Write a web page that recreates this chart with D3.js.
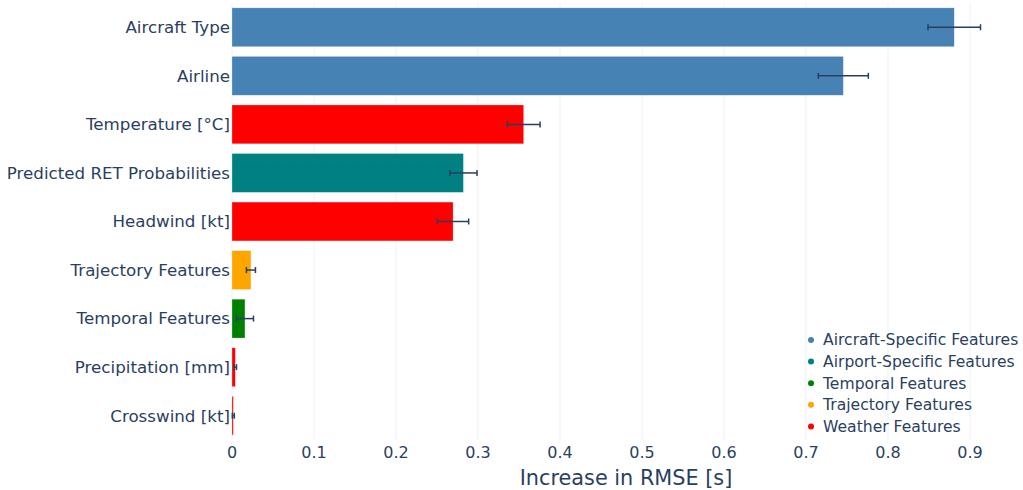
<!DOCTYPE html>
<html><head><meta charset="utf-8">
<script src="https://cdn.jsdelivr.net/npm/d3@7"></script>
<style>body{margin:0;background:#fff;} text{font-family:"DejaVu Sans",Verdana,sans-serif;}</style>
</head><body><svg id="c" width="1023" height="490"></svg>
<script>
const features = ["Aircraft Type","Airline","Temperature [°C]","Predicted RET Probabilities","Headwind [kt]","Trajectory Features","Temporal Features","Precipitation [mm]","Crosswind [kt]"];
const importance = [0.8808,0.7455,0.3557,0.2822,0.2696,0.0231,0.0158,0.0040,0.0016];
const errors = [0.032,0.0305,0.020,0.0166,0.019,0.0055,0.0104,0.0015,0.0012];
const groups = ["Aircraft-Specific Features","Aircraft-Specific Features","Weather Features","Airport-Specific Features","Weather Features","Trajectory Features","Temporal Features","Weather Features","Weather Features"];
const legendGroups = ["Aircraft-Specific Features","Airport-Specific Features","Temporal Features","Trajectory Features","Weather Features"];
const groupColors = ["#4682B4","#008080","#008000","#FFA500","#FF0000"];
const xTicks = [0,0.1,0.2,0.3,0.4,0.5,0.6,0.7,0.8,0.9];

const svg = d3.select("#c");
const pL = 232, pR = 1018, pT = 3, pB = 440;
const x = d3.scaleLinear().domain([0, 0.9]).range([pL, 970]);
const y = d3.scaleBand().domain(features).range([pT, pB]).paddingInner(0.2).paddingOuter(0.1);
const color = d3.scaleOrdinal().domain(legendGroups).range(groupColors);
const txt = "#2a3f5f";

// grid
svg.append("g").selectAll("line").data(xTicks).join("line")
  .attr("x1", d=>x(d)).attr("x2", d=>x(d)).attr("y1", pT).attr("y2", pB)
  .attr("stroke", "#ebf0f8").attr("stroke-width", 1);

// bars
svg.append("g").selectAll("rect").data(features).join("rect")
  .attr("x", x(0)).attr("y", d=>y(d))
  .attr("width", (d,i)=>x(importance[i])-x(0)).attr("height", y.bandwidth())
  .attr("fill", (d,i)=>color(groups[i]))
  .attr("stroke", "#fff").attr("stroke-opacity", 0.5).attr("stroke-width", 0.5);

// error bars
const eg = svg.append("g").attr("stroke", txt).attr("stroke-width", 1.5);
features.forEach((f,i)=>{
  const cy = y(f) + y.bandwidth()/2;
  const x1 = x(importance[i]-errors[i]), x2 = x(importance[i]+errors[i]);
  eg.append("line").attr("x1", x1).attr("x2", x2).attr("y1", cy).attr("y2", cy);
  eg.append("line").attr("x1", x1).attr("x2", x1).attr("y1", cy-3).attr("y2", cy+3);
  eg.append("line").attr("x1", x2).attr("x2", x2).attr("y1", cy-3).attr("y2", cy+3);
});

// y labels
svg.append("g").selectAll("text").data(features).join("text")
  .attr("x", pL - 2).attr("y", d=>y(d)+y.bandwidth()/2).attr("dy", "0.35em")
  .attr("text-anchor", "end").attr("fill", txt).attr("font-size", 16.7).text(d=>d);

// x ticks
svg.append("g").selectAll("text").data(xTicks).join("text")
  .attr("x", d=>x(d)).attr("y", 458).attr("text-anchor", "middle")
  .attr("fill", txt).attr("font-size", 16).text(d=>d3.format("")(d));

svg.append("text").attr("x", 626).attr("y", 485).attr("text-anchor","middle")
  .attr("fill", txt).attr("font-size", 20.8).text("Increase in RMSE [s]");

// legend
const lg = svg.append("g");
legendGroups.forEach((g,i)=>{
  const cy = 340 + i*21.6;
  lg.append("circle").attr("cx", 811).attr("cy", cy).attr("r", 3).attr("fill", groupColors[i]);
  lg.append("text").attr("x", 823).attr("y", cy).attr("dy","0.35em").attr("fill", txt)
    .attr("font-size", 15.6).text(g);
});
</script></body></html>
